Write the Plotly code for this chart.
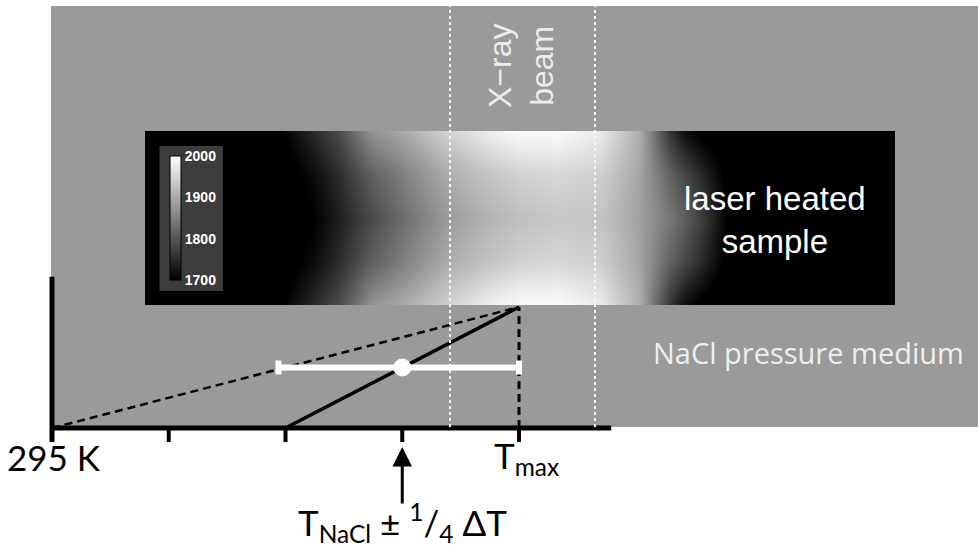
import plotly.graph_objects as go

# ---------------- temperature field of the laser-heated sample (K) ----------------
pos_um = [-30, -22, -19, -16.5, -14.5, -12, -9, -5.5, -2.5, 0, 3, 6.5, 9.5, 12, 13, 14.5, 16.5, 19, 30]
depth_um = [-7, -3.5, 0, 3.5, 7]
T_edge = [1600, 1660, 1700, 1750, 1790, 1870, 1905, 1950, 1980, 1995, 1995, 1975, 1905, 1760, 1720, 1690, 1670, 1650, 1600]
T_quarter = [1586, 1646, 1679, 1715, 1752, 1810, 1856, 1905, 1931, 1946, 1953, 1943, 1895, 1816, 1787, 1750, 1694, 1664, 1600]
T_centre = [1580, 1640, 1670, 1700, 1735, 1785, 1835, 1885, 1910, 1925, 1935, 1930, 1890, 1840, 1815, 1775, 1705, 1670, 1600]
temperature = [T_edge, T_quarter, T_centre, T_quarter, T_edge]
cbar_ticks = [1700, 1800, 1900, 2000]
xray_beam_um = [-5.6, 6.0]

# ---------------- schematic temperature axis (units of dT/4 above 295 K) ----------------
temp_ticks = [0, 1, 2, 3, 4]
axis_x_end = 4.79
axis_y_end = 1.25
tick_len = 0.116
linear_u = [0, 4]
linear_v = [0, 1]
nacl_u = [2, 4]
nacl_v = [0, 1]
tmax_u = [4, 4]
tmax_v = [0, 1]
tnacl_u = [3]
tnacl_v = [0.5]
err_plus = [1.0]
err_minus = [1.06]

W, H = 978, 545
fig = go.Figure()

# axes of the schematic
fig.add_trace(go.Scatter(x=[0, 0, None, 0, axis_x_end], y=[axis_y_end, -tick_len, None, 0, 0],
                         mode="lines", line=dict(color="black", width=5), hoverinfo="skip"))
tx, ty = [], []
for t in temp_ticks[1:]:
    tx += [t, t, None]
    ty += [0, -tick_len, None]
fig.add_trace(go.Scatter(x=tx, y=ty, mode="lines", line=dict(color="black", width=4), hoverinfo="skip"))

# profiles
fig.add_trace(go.Scatter(x=linear_u, y=linear_v, mode="lines",
                         line=dict(color="black", width=2.5, dash="8px,5px"), hoverinfo="skip"))
fig.add_trace(go.Scatter(x=nacl_u, y=nacl_v, mode="lines",
                         line=dict(color="black", width=3.5), hoverinfo="skip"))
fig.add_trace(go.Scatter(x=tmax_u, y=tmax_v, mode="lines",
                         line=dict(color="black", width=3, dash="8px,5px"), hoverinfo="skip"))
fig.add_trace(go.Scatter(x=tnacl_u, y=tnacl_v, mode="markers",
                         marker=dict(color="white", size=18, line=dict(width=0)),
                         error_x=dict(type="data", array=err_plus, arrayminus=err_minus,
                                      color="white", thickness=6, width=7),
                         hoverinfo="skip"))

# heat map of the sample
fig.add_trace(go.Heatmap(x=pos_um, y=depth_um, z=temperature, xaxis="x2", yaxis="y2",
                         zmin=1700, zmax=2000, zsmooth="best",
                         colorscale=[[0, "black"], [1, "white"]],
                         colorbar=dict(x=160 / W, xanchor="left", y=1 - 146 / H, yanchor="top",
                                       lenmode="pixels", len=144, thickness=11,
                                       xpad=10, ypad=10, bgcolor="#3c3c3c",
                                       outlinecolor="black", outlinewidth=1,
                                       tickvals=cbar_ticks, ticks="",
                                       tickfont=dict(color="white", size=14,
                                                     family="Liberation Sans", weight="bold")),
                         hoverinfo="skip"))

shapes = [
    dict(type="rect", xref="paper", yref="paper", x0=51 / W, x1=1, y0=1 - 427 / H, y1=1 - 6 / H,
         fillcolor="#9a9a9a", line=dict(width=0), layer="below"),
]
for xb in xray_beam_um:
    shapes.append(dict(type="line", xref="x2", yref="paper", x0=xb, x1=xb, y0=1 - 427 / H, y1=1 - 6 / H,
                       line=dict(color="#f4f4f4", width=2, dash="dot"), layer="above"))

lab = dict(family="Lato", color="black", size=35)
c = dict(xanchor="center", yanchor="middle", showarrow=False)
annotations = [
    dict(text="X\u2212ray<br>beam", xref="paper", yref="paper", x=521 / W, y=1 - 66 / H,
         textangle=-90, font=dict(family="Liberation Sans", size=32, color="#ececec"), **c),
    dict(text="laser heated<br>sample", xref="paper", yref="paper", x=775 / W, y=1 - 220 / H,
         font=dict(family="Liberation Sans", size=33, color="white"), **c),
    dict(text="NaCl pressure medium", xref="paper", yref="paper", x=808 / W, y=1 - 352 / H,
         font=dict(family="Open Sans", size=29, color="#eeeeee"), **c),
    dict(text="295 K", xref="x", yref="y", x=temp_ticks[0], y=-0.24, xshift=2, font=lab, **c),
    dict(text="T<sub>max</sub>", xref="x", yref="y", x=temp_ticks[4], y=-0.24, xshift=7, font=lab, **c),
    dict(text="", xref="x", yref="y", x=tnacl_u[0], y=-0.157, ax=0, ay=58, showarrow=True,
         arrowhead=2, arrowsize=1.3, arrowwidth=3, arrowcolor="black"),
    dict(text="T<sub>NaCl</sub> \u00b1 <sup>1</sup>/<sub>4</sub> \u0394T", xref="x", yref="y",
         x=tnacl_u[0], y=-0.80, yshift=2, font=lab, **c),
]

fig.update_layout(
    width=W, height=H, margin=dict(l=0, r=0, t=0, b=0),
    paper_bgcolor="white", plot_bgcolor="rgba(0,0,0,0)", showlegend=False,
    xaxis=dict(domain=[0, 1], range=[-52 / 116.75, 926 / 116.75], visible=False, fixedrange=True),
    yaxis=dict(domain=[0, 1], range=[-117 / 121, 428 / 121], visible=False, fixedrange=True),
    xaxis2=dict(domain=[145 / W, 895 / W], range=[-30, 30], anchor="y2", visible=False),
    yaxis2=dict(domain=[1 - 305 / H, 1 - 131 / H], range=[-7, 7], anchor="x2", visible=False),
    shapes=shapes, annotations=annotations,
)
fig.write_html("out.html", config={"displayModeBar": False},
               post_script="document.body.style.margin='0';document.body.style.overflow='hidden';")
